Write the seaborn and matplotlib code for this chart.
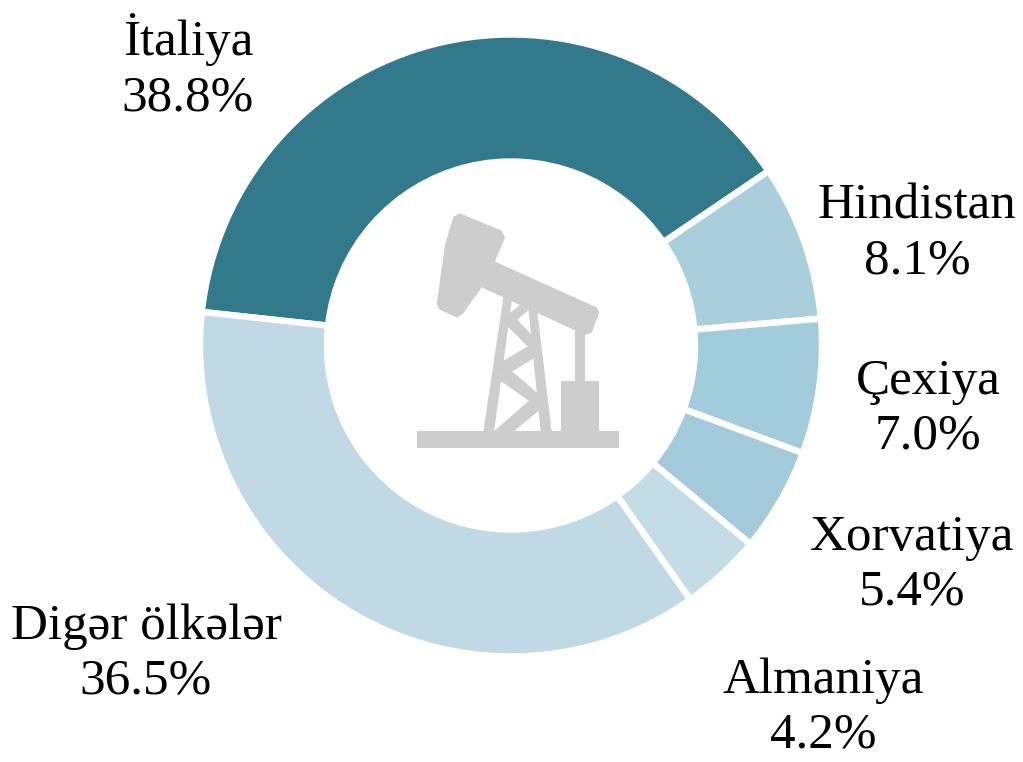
import matplotlib
matplotlib.use("Agg")
import matplotlib.pyplot as plt
import seaborn as sns
from matplotlib.patches import Polygon

sns.set_theme(style="white")
plt.rcParams['font.family'] = ['Liberation Serif', 'DejaVu Serif']

countries = ["İtaliya", "Hindistan", "Çexiya", "Xorvatiya", "Almaniya", "Digər ölkələr"]
shares = [38.8, 8.1, 7.0, 5.4, 4.2, 36.5]
colors = ["#33798C", "#A9CEDC", "#A2CBDB", "#A2CADA", "#C4DCE6", "#C1D9E4"]

# label centres, in image pixels
label_pos = [(188, 67), (917, 234), (928, 409), (912, 565), (823, 708), (146, 654)]

fig = plt.figure(figsize=(10.23, 7.62), dpi=100)
ax = fig.add_axes([0, 0, 1, 1])

# y axis is flipped below, so counterclock here reads clockwise on screen
ax.pie(shares, colors=colors, startangle=186.2, counterclock=True,
       center=(511, 345.5), radius=311, frame=True,
       wedgeprops=dict(width=127, edgecolor="white", linewidth=4.6))
ax.set_xlim(0, 1023)
ax.set_ylim(762, 0)
ax.set_aspect("equal")
ax.axis("off")

for name, share, pos in zip(countries, shares, label_pos):
    ax.text(pos[0], pos[1], f"{name}\n{share:.1f}%", ha="center", va="center",
            fontsize=36.8, color="black", linespacing=1.24)

# pumpjack icon, traced in zoomed crop coords (3x, offset 400,200)
icon_grey = "#CDCDCD"


def crop(pts):
    return [(400 + x / 3, 200 + y / 3) for x, y in pts]


beam = [(180, 40), (305, 92), (315, 112), (285, 185), (590, 322), (598, 338),
        (575, 398), (555, 405), (245, 262), (190, 340), (170, 353), (118, 328),
        (110, 312), (135, 135), (160, 50)]
shapes = [
    beam,
    [(312, 280), (338, 285), (282, 695), (250, 695)],  # left leg
    [(385, 325), (412, 335), (455, 695), (422, 695)],  # right leg
    [(526, 390), (556, 390), (556, 545), (526, 545)],  # rod
    [(483, 542), (598, 542), (598, 697), (483, 697)],  # box
    [(50, 694), (658, 694), (658, 745), (50, 745)],  # base
    [(322, 345), (372, 305), (392, 325), (322, 385)],
    [(335, 342), (410, 420), (405, 462), (322, 378)],
    [(395, 432), (410, 470), (308, 532), (300, 488)],
    [(318, 498), (425, 590), (425, 630), (298, 540)],
    [(395, 595), (425, 625), (338, 697), (278, 697)],
]
for s in shapes:
    ax.add_patch(Polygon(crop(s), closed=True, facecolor=icon_grey, edgecolor="none"))

fig.savefig("out.png", dpi=100, facecolor="white")
